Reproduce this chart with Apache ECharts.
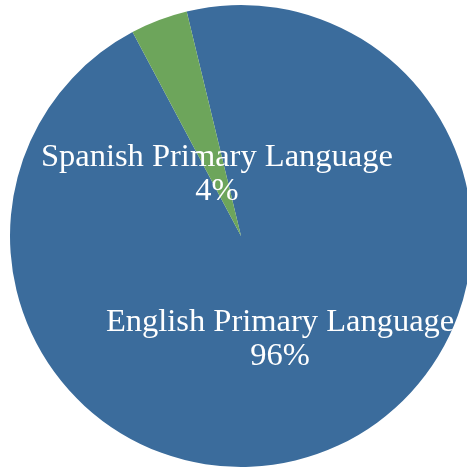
<!DOCTYPE html>
<html><head><meta charset="utf-8">
<script src="https://cdn.jsdelivr.net/npm/echarts@6/dist/echarts.min.js"></script>
<style>html,body{margin:0;padding:0;background:#fff}#c{width:467px;height:470px}</style>
</head><body><div id="c"></div>
<script>
const categories = ["English Primary Language", "Spanish Primary Language"];
const values = [96, 4];
const colors = ["#3B6C9C", "#6DA55B"];

const chart = echarts.init(document.getElementById('c'));
const labelOffsets = [[-3, -7], [18, 49]];
chart.setOption({
  animation: false,
  series: [{
    type: 'pie',
    center: [241, 236],
    radius: [0, 231],
    startAngle: 103.6,
    clockwise: true,
    percentPrecision: 0,
    label: {
      show: true,
      position: 'inside',
      formatter: '{b}\n{d}%',
      color: '#fff',
      fontFamily: 'Liberation Serif',
      fontSize: 32.5,
      lineHeight: 34,
      align: 'center'
    },
    labelLine: {show: false},
    itemStyle: {borderWidth: 0},
    emphasis: {disabled: true},
    data: categories.map((c, i) => ({
      name: c, value: values[i],
      itemStyle: {color: colors[i]},
      label: {offset: labelOffsets[i]}
    }))
  }]
});
</script></body></html>
